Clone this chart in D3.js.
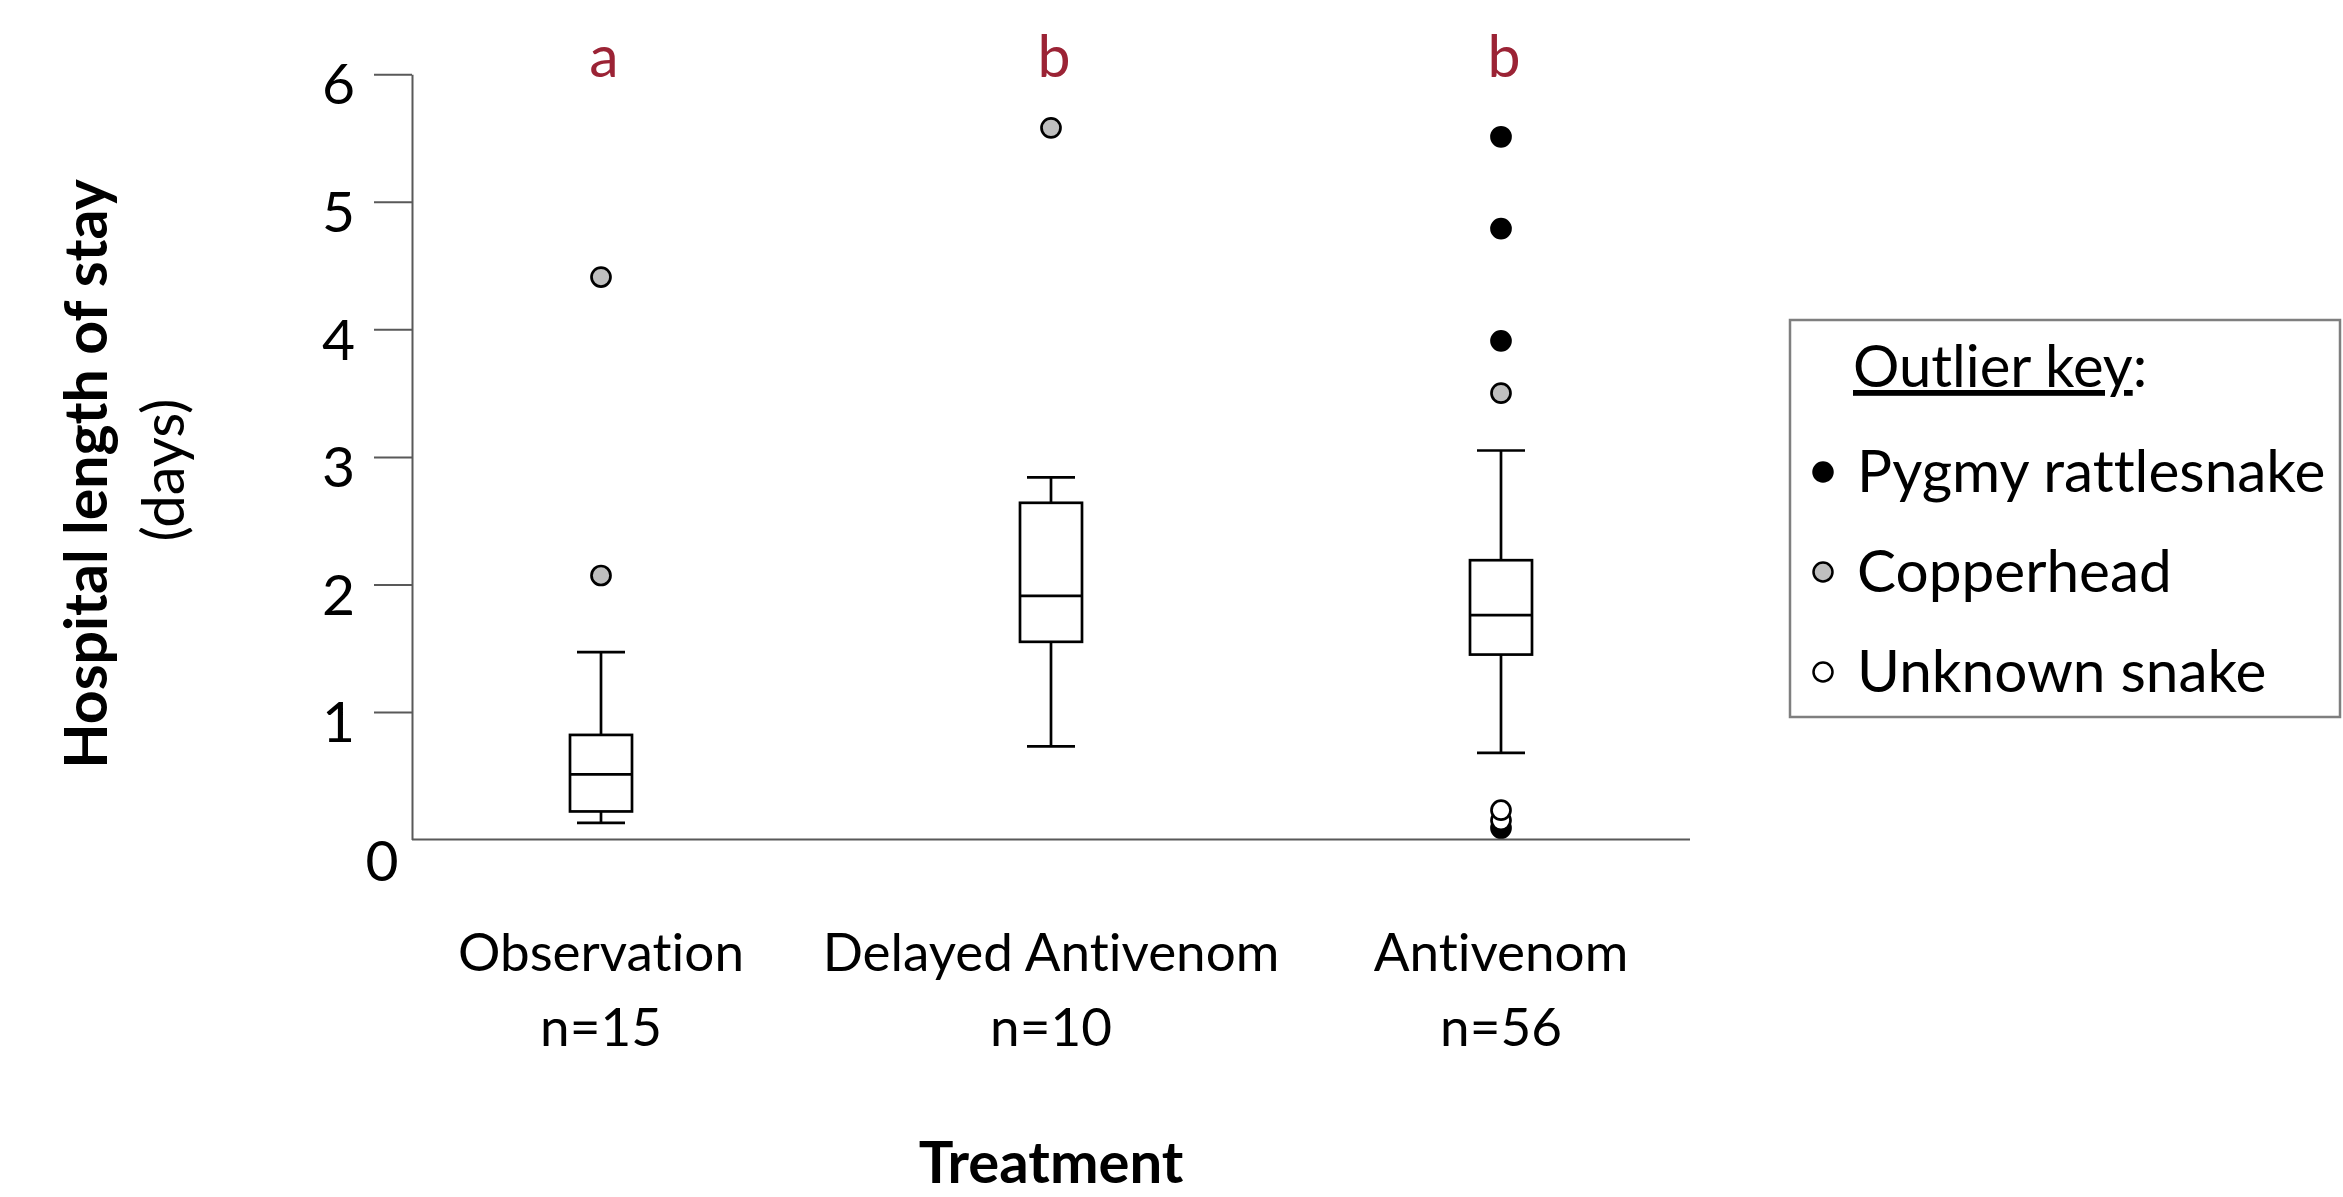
<!DOCTYPE html>
<html>
<head>
<meta charset="utf-8">
<script src="https://cdn.jsdelivr.net/npm/d3@7"></script>
<style>
body{margin:0;background:#fff;}
text{font-family:Lato,"Open Sans",sans-serif;fill:#000;font-variant-ligatures:none;}
</style>
</head>
<body>
<div id="chart"></div>
<script>
// data
var categories = ["Observation","Delayed Antivenom","Antivenom"];
var nLabels = ["n=15","n=10","n=56"];
var sigLetters = ["a","b","b"];
var whiskerLow = [0.13,0.73,0.68];
var q1 = [0.22,1.55,1.45];
var median = [0.51,1.91,1.76];
var q3 = [0.82,2.64,2.19];
var whiskerHigh = [1.47,2.84,3.05];

var outlierGroup = ["Observation","Observation","Delayed Antivenom","Antivenom","Antivenom","Antivenom","Antivenom","Antivenom","Antivenom","Antivenom"];
var outlierValue = [4.41,2.07,5.58,5.51,4.79,3.91,3.50,0.09,0.15,0.23];
var outlierSnake = ["Copperhead","Copperhead","Copperhead","Pygmy rattlesnake","Pygmy rattlesnake","Pygmy rattlesnake","Copperhead","Pygmy rattlesnake","Unknown snake","Unknown snake"];

var snakes = ["Pygmy rattlesnake","Copperhead","Unknown snake"];
var snakeFill = ["#000000","#bfbfbf","#ffffff"];
var yTicks = [1,2,3,4,5,6];

var W = 2343, H = 1197;
var plotLeft = 412, plotRight = 1690, plotTop = 74.3, plotBottom = 839.5;
var axisCol = "#595959";
var sigCol = "#9b2335";

var svg = d3.select("#chart").append("svg")
  .attr("width",W).attr("height",H);

var x = d3.scalePoint().domain(categories).range([plotLeft,plotRight]).padding(0.42);
var y = d3.scaleLinear().domain([0,6]).range([plotBottom,plotTop]);
var fill = d3.scaleOrdinal().domain(snakes).range(snakeFill);

// y axis
var yAxis = svg.append("g")
  .attr("transform","translate("+plotLeft+",0)")
  .call(d3.axisLeft(y).tickValues(yTicks).tickSize(38).tickPadding(19).tickSizeOuter(0).tickFormat(d3.format("d")));
yAxis.select(".domain").attr("stroke",axisCol).attr("stroke-width",2);
yAxis.selectAll(".tick line").attr("stroke",axisCol).attr("stroke-width",2);
yAxis.selectAll(".tick text").attr("font-size",57).attr("dy","0.52em").attr("font-family","Lato");

// zero label sits under the corner
svg.append("text")
  .attr("x",plotLeft-30).attr("y",y(0)+41)
  .attr("text-anchor","middle").attr("font-size",57)
  .text("0");

// x axis line
svg.append("line")
  .attr("x1",plotLeft).attr("x2",plotRight)
  .attr("y1",y(0)).attr("y2",y(0))
  .attr("stroke",axisCol).attr("stroke-width",2);

// boxes
var boxW = 62, capW = 48;
var groups = svg.selectAll(".box").data(categories).enter().append("g").attr("class","box");

groups.append("line")
  .attr("x1",function(d){return x(d);}).attr("x2",function(d){return x(d);})
  .attr("y1",function(d,i){return y(whiskerLow[i]);})
  .attr("y2",function(d,i){return y(whiskerHigh[i]);})
  .attr("stroke","#000").attr("stroke-width",2.7);

groups.append("line")
  .attr("x1",function(d){return x(d)-capW/2;}).attr("x2",function(d){return x(d)+capW/2;})
  .attr("y1",function(d,i){return y(whiskerHigh[i]);}).attr("y2",function(d,i){return y(whiskerHigh[i]);})
  .attr("stroke","#000").attr("stroke-width",2.7);

groups.append("line")
  .attr("x1",function(d){return x(d)-capW/2;}).attr("x2",function(d){return x(d)+capW/2;})
  .attr("y1",function(d,i){return y(whiskerLow[i]);}).attr("y2",function(d,i){return y(whiskerLow[i]);})
  .attr("stroke","#000").attr("stroke-width",2.7);

groups.append("rect")
  .attr("x",function(d){return x(d)-boxW/2;})
  .attr("width",boxW)
  .attr("y",function(d,i){return y(q3[i]);})
  .attr("height",function(d,i){return y(q1[i])-y(q3[i]);})
  .attr("fill","#fff").attr("stroke","#000").attr("stroke-width",2.7);

groups.append("line")
  .attr("x1",function(d){return x(d)-boxW/2;}).attr("x2",function(d){return x(d)+boxW/2;})
  .attr("y1",function(d,i){return y(median[i]);}).attr("y2",function(d,i){return y(median[i]);})
  .attr("stroke","#000").attr("stroke-width",2.7);

// outliers
svg.selectAll(".outlier").data(outlierValue).enter().append("circle")
  .attr("class","outlier")
  .attr("cx",function(d,i){return x(outlierGroup[i]);})
  .attr("cy",function(d){return y(d);})
  .attr("r",9.5)
  .attr("fill",function(d,i){return fill(outlierSnake[i]);})
  .attr("stroke","#000").attr("stroke-width",2.7);

// significance letters
svg.selectAll(".sig").data(categories).enter().append("text")
  .attr("class","sig")
  .attr("x",function(d){return x(d)+3;}).attr("y",77)
  .attr("text-anchor","middle").attr("font-size",59)
  .style("fill",sigCol)
  .text(function(d,i){return sigLetters[i];});

// category labels
svg.selectAll(".cat").data(categories).enter().append("text")
  .attr("class","cat")
  .attr("x",function(d){return x(d);}).attr("y",971)
  .attr("text-anchor","middle").attr("font-size",53)
  .text(String);
svg.selectAll(".nlab").data(categories).enter().append("text")
  .attr("class","nlab")
  .attr("x",function(d){return x(d);}).attr("y",1046)
  .attr("text-anchor","middle").attr("font-size",53)
  .text(function(d,i){return nLabels[i];});

// axis titles
svg.append("text")
  .attr("x",x(categories[1])).attr("y",1183)
  .attr("text-anchor","middle").attr("font-size",58).attr("font-weight","bold")
  .text("Treatment");
svg.append("text")
  .attr("transform","translate(107,474) rotate(-90)")
  .attr("text-anchor","middle").attr("font-size",59).attr("font-weight","bold")
  .text("Hospital length of stay");
svg.append("text")
  .attr("transform","translate(184,470) rotate(-90)")
  .attr("text-anchor","middle").attr("font-size",58)
  .text("(days)");

// outlier key
var key = svg.append("g");
key.append("rect")
  .attr("x",1790).attr("y",320).attr("width",550).attr("height",397)
  .attr("fill","#fff").attr("stroke","#7f7f7f").attr("stroke-width",2.5);
var keyTitle = key.append("text")
  .attr("x",1853).attr("y",387).attr("font-size",58);
keyTitle.append("tspan").attr("text-decoration","underline").text("Outlier key");
keyTitle.append("tspan").text(":");

var keyRow = key.selectAll(".keyrow").data(snakes).enter().append("g").attr("class","keyrow")
  .attr("transform",function(d,i){return "translate(0,"+(492+i*100)+")";});
keyRow.append("circle")
  .attr("cx",1823).attr("cy",-20).attr("r",9.5)
  .attr("fill",function(d){return fill(d);})
  .attr("stroke","#000").attr("stroke-width",2.5);
keyRow.append("text")
  .attr("x",1857).attr("y",0).attr("font-size",58.5)
  .text(String);
</script>
</body>
</html>
